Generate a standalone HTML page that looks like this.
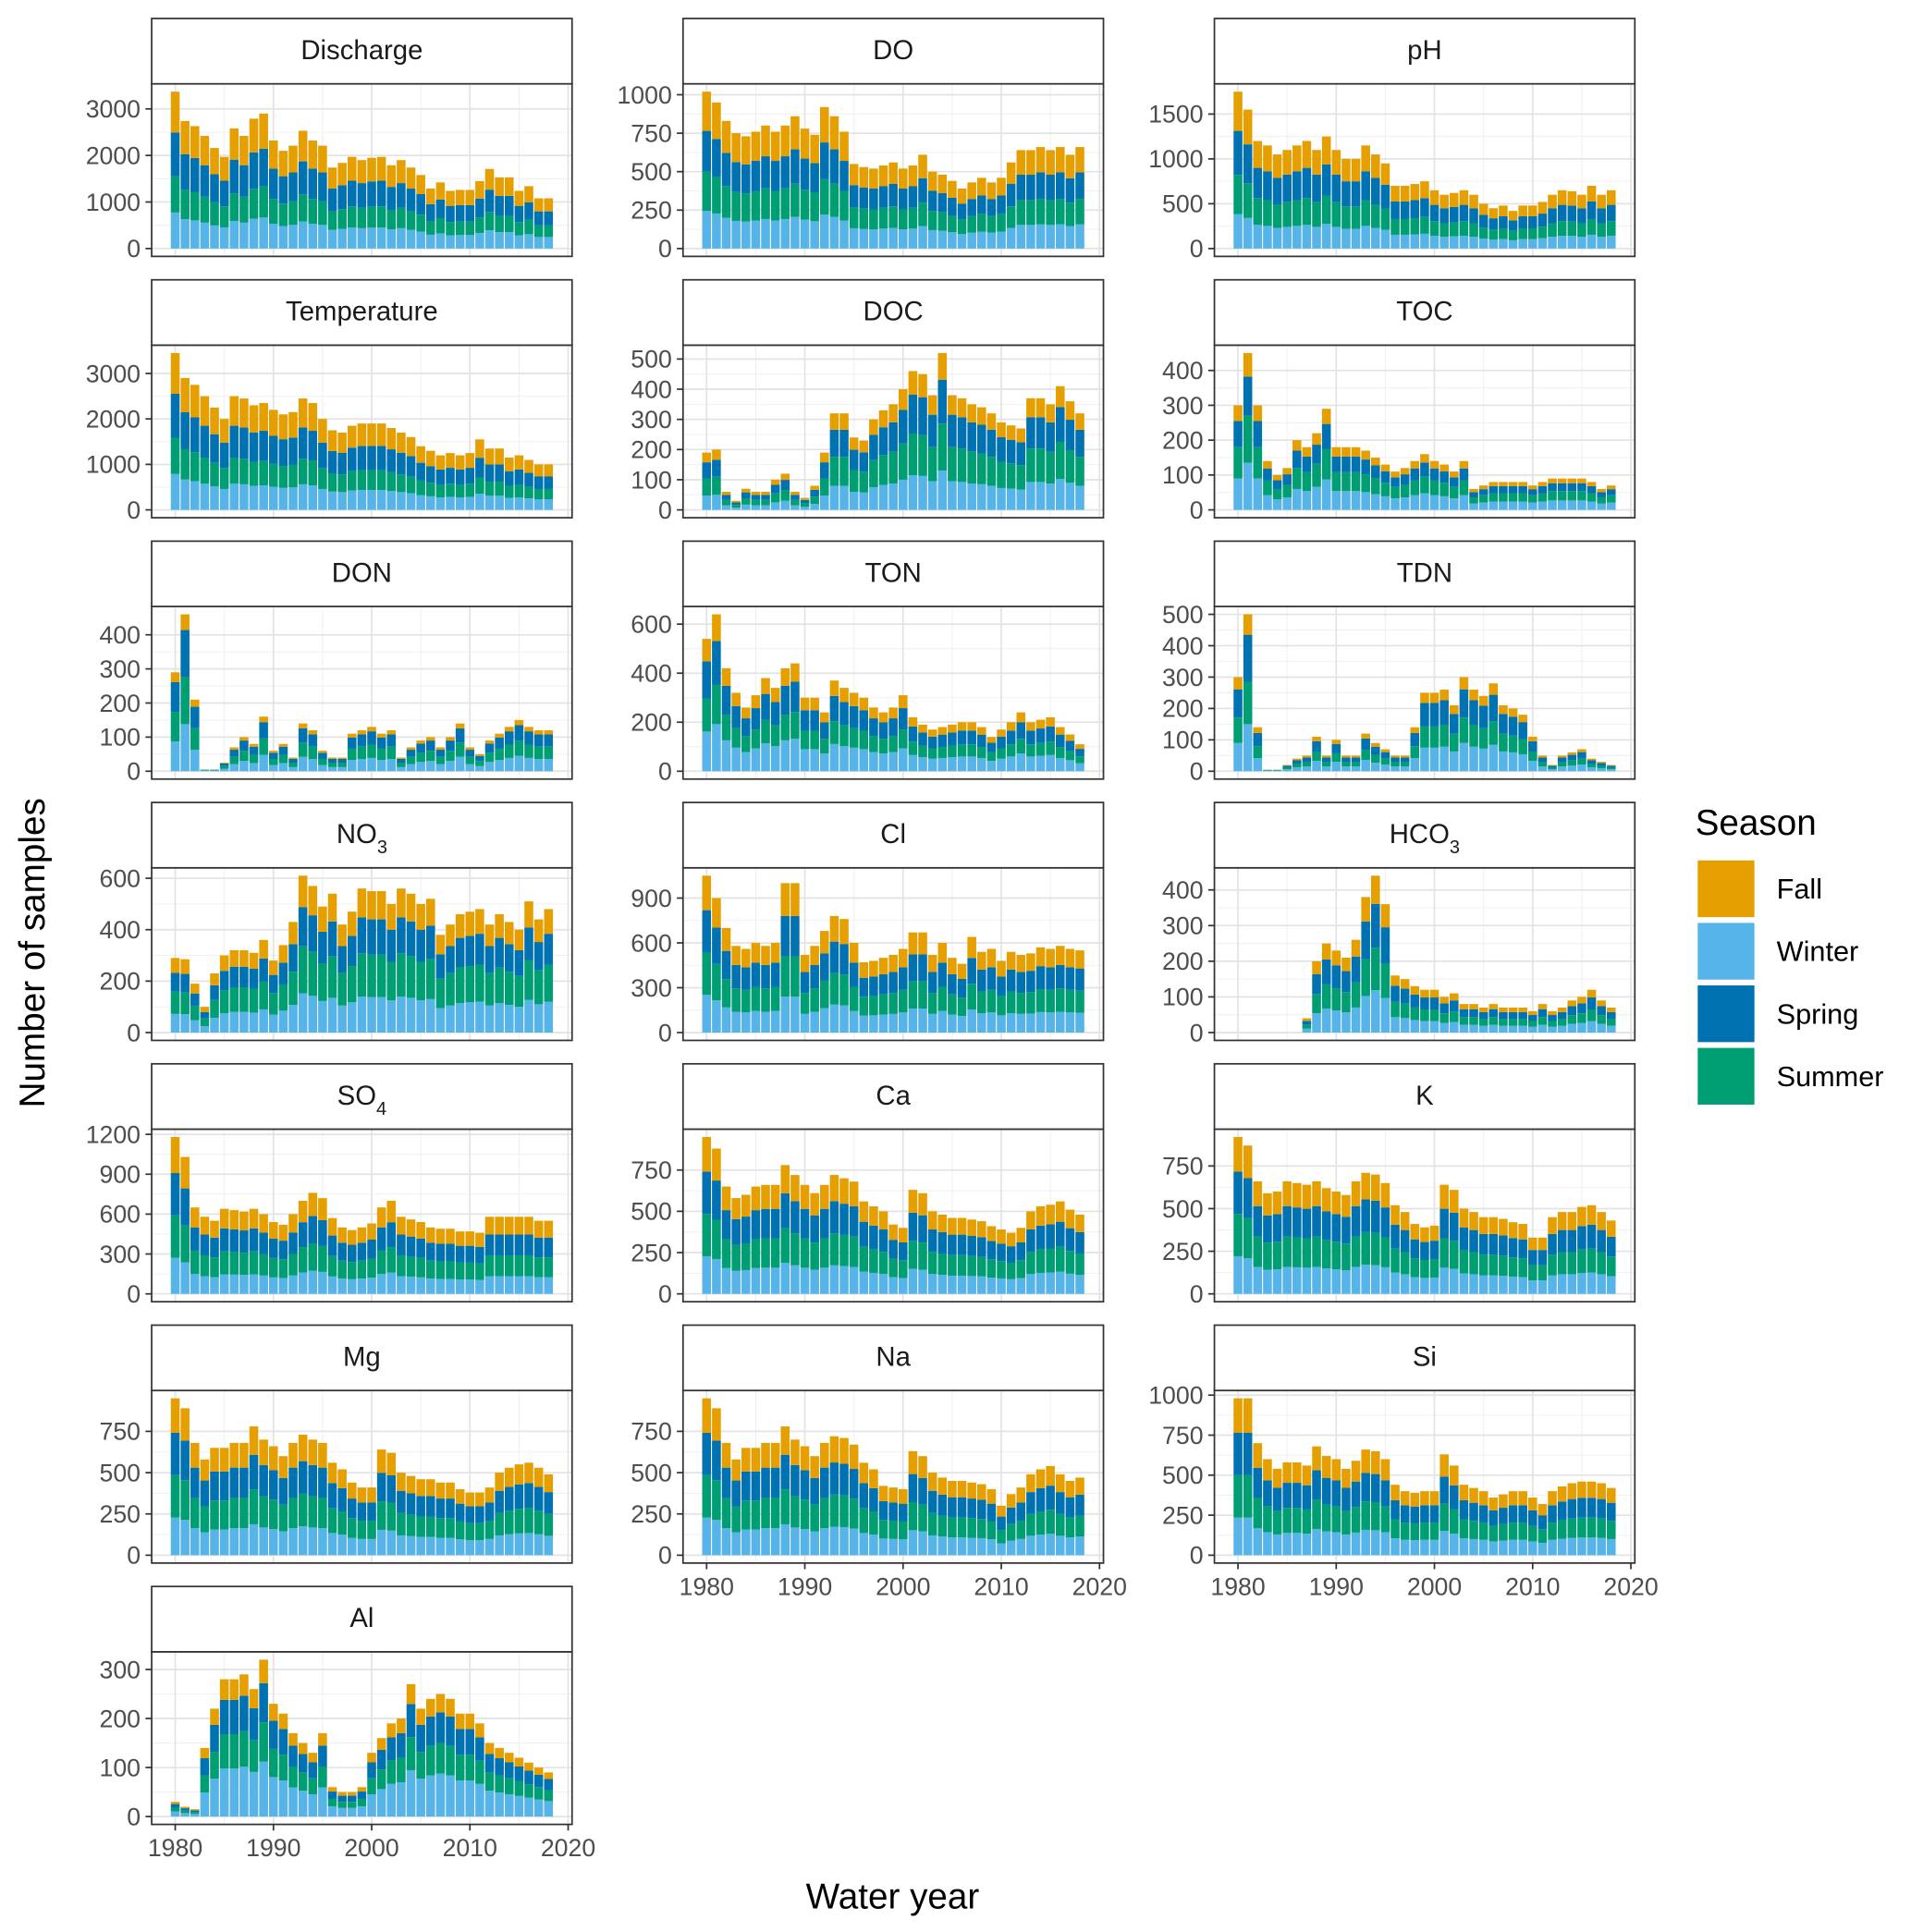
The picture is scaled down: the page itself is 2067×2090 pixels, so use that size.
<!DOCTYPE html>
<html><head><meta charset="utf-8"><style>
html,body{margin:0;padding:0;background:#fff}
svg{display:block}
text{font-family:"Liberation Sans",sans-serif}
</style></head><body>
<svg id="chart" width="2067" height="2090" viewBox="0 0 1550 1567.3" preserveAspectRatio="none" xmlns="http://www.w3.org/2000/svg"></svg>
<script>
const years = []; for (let y = 1980; y <= 2018; y++) years.push(y);
const seasons = ["Winter","Summer","Spring","Fall"];
const seasonColors = {Winter:"#56B4E9",Summer:"#009E73",Spring:"#0072B2",Fall:"#E69F00"};
const legendOrder = ["Fall","Winter","Spring","Summer"];
const panelNames = ["Discharge","DO","pH","Temperature","DOC","TOC","DON","TON","TDN","NO3","Cl","HCO3","SO4","Ca","K","Mg","Na","Si","Al"];
const totalsDischarge = [3370,2740,2630,2420,2160,1970,2580,2420,2790,2900,2320,2100,2210,2530,2320,2210,1740,1840,1970,1900,1950,1970,1790,1900,1740,1580,1290,1420,1240,1260,1260,1450,1710,1530,1530,1240,1340,1080,1080];
const totalsDO = [1020,950,830,750,730,760,800,760,800,860,780,740,920,860,760,550,530,520,540,560,520,540,610,500,480,440,390,430,460,430,460,560,640,640,660,640,660,610,660];
const totalsPH = [1750,1550,1200,1150,1050,1100,1150,1200,1100,1250,1100,1000,1000,1150,1050,950,700,700,720,750,650,600,620,650,600,500,450,480,420,480,480,520,600,650,640,600,700,600,650];
const totalsTemperature = [3450,2900,2750,2500,2250,2000,2500,2450,2300,2350,2200,2100,2150,2450,2350,2000,1750,1700,1850,1900,1900,1900,1800,1700,1600,1400,1300,1200,1250,1200,1250,1550,1350,1350,1150,1200,1100,1000,1000];
const totalsDOC = [190,200,60,30,70,60,60,100,120,60,40,80,190,320,320,240,230,300,330,350,400,460,450,380,520,380,370,350,340,320,290,280,270,370,370,350,410,360,320];
const totalsTOC = [300,450,300,140,100,120,200,180,220,290,180,180,180,170,150,130,110,120,140,160,140,130,110,140,60,70,80,80,80,80,70,80,90,90,90,90,80,60,70];
const totalsDON = [290,460,210,5,5,25,70,100,80,160,60,80,40,140,120,60,40,40,110,120,130,110,120,40,70,90,100,70,100,140,70,50,90,110,130,150,130,120,120];
const totalsTON = [540,640,420,320,260,310,380,340,420,440,300,300,240,370,340,320,300,260,240,260,310,220,190,170,180,190,200,200,180,140,170,200,240,200,210,220,180,150,110];
const totalsTDN = [300,500,140,5,5,20,40,50,110,50,100,50,50,120,90,70,50,50,140,250,250,260,210,300,260,240,280,210,200,180,110,50,20,50,60,70,40,30,20];
const totalsNO3 = [290,285,190,100,230,300,320,320,310,360,280,340,430,610,570,490,540,420,470,560,550,550,500,560,540,500,520,380,420,460,470,480,420,460,430,400,510,440,480];
const totalsCl = [1050,900,700,580,560,600,580,600,1000,1000,520,580,680,780,760,600,470,480,500,520,560,670,670,520,600,500,460,640,540,560,480,540,520,530,570,560,580,560,550];
const totalsHCO3 = [0,0,0,0,0,0,0,40,200,250,230,210,260,380,440,360,160,150,130,120,120,100,110,80,80,70,80,70,70,70,60,80,60,70,90,100,120,90,70];
const totalsSO4 = [1180,1030,650,580,550,640,630,620,640,600,540,520,600,700,760,720,570,500,480,500,530,650,700,580,560,540,500,490,490,470,470,460,580,580,580,580,580,550,550];
const totalsCa = [950,880,650,580,600,650,660,660,780,720,660,610,660,720,700,680,560,530,500,420,400,630,610,500,480,460,460,450,440,410,390,370,400,500,530,540,560,510,480];
const totalsK = [920,870,660,590,600,660,650,640,660,620,600,580,660,710,700,650,520,480,410,390,400,640,610,500,480,450,450,440,420,410,330,330,450,480,480,510,520,480,430];
const totalsMg = [950,890,680,580,650,650,680,680,780,700,660,600,680,730,700,680,560,520,440,410,410,640,620,500,480,460,460,440,440,400,380,380,410,500,530,550,560,530,490];
const totalsNa = [950,890,680,580,650,650,680,680,780,700,660,600,680,720,710,670,560,520,420,410,400,630,600,500,470,450,450,440,430,400,300,370,410,490,520,540,490,450,470];
const totalsSi = [980,980,700,600,540,580,580,560,680,620,600,540,590,660,650,600,440,400,390,400,400,630,560,440,420,400,360,380,400,400,360,320,400,430,450,460,460,450,420];
const totalsAl = [30,20,15,140,220,280,280,290,260,320,230,210,170,150,130,170,60,50,50,60,130,160,190,200,270,220,240,250,240,210,210,190,150,140,130,120,110,100,90];
// season shares per panel: [Winter, Summer, Spring, Fall]
const sharesDischarge=[0.23,0.23,0.28,0.26], sharesDO=[0.24,0.25,0.26,0.25], sharesPH=[0.22,0.25,0.28,0.25],
 sharesTemperature=[0.23,0.23,0.28,0.26], sharesDOC=[0.25,0.3,0.28,0.17], sharesTOC=[0.3,0.3,0.25,0.15],
 sharesDON=[0.3,0.3,0.3,0.1], sharesTON=[0.3,0.25,0.28,0.17], sharesTDN=[0.3,0.27,0.3,0.13],
 sharesNO3=[0.25,0.3,0.25,0.2], sharesCl=[0.24,0.27,0.27,0.22], sharesHCO3=[0.27,0.27,0.28,0.18],
 sharesSO4=[0.23,0.27,0.27,0.23], sharesCa=[0.24,0.27,0.27,0.22], sharesK=[0.24,0.27,0.27,0.22],
 sharesMg=[0.24,0.27,0.27,0.22], sharesNa=[0.24,0.27,0.27,0.22], sharesSi=[0.24,0.27,0.27,0.22], sharesAl=[0.35,0.25,0.25,0.15];
const ticksDischarge=[0,1000,2000,3000], ticksDO=[0,250,500,750,1000], ticksPH=[0,500,1000,1500],
 ticksTemperature=[0,1000,2000,3000], ticksDOC=[0,100,200,300,400,500], ticksTOC=[0,100,200,300,400],
 ticksDON=[0,100,200,300,400], ticksTON=[0,200,400,600], ticksTDN=[0,100,200,300,400,500],
 ticksNO3=[0,200,400,600], ticksCl=[0,300,600,900], ticksHCO3=[0,100,200,300,400],
 ticksSO4=[0,300,600,900,1200], ticksCa=[0,250,500,750], ticksK=[0,250,500,750],
 ticksMg=[0,250,500,750], ticksNa=[0,250,500,750], ticksSi=[0,250,500,750,1000], ticksAl=[0,100,200,300];
const xTickYears = [1980,1990,2000,2010,2020];

const totalsList=[totalsDischarge,totalsDO,totalsPH,totalsTemperature,totalsDOC,totalsTOC,totalsDON,totalsTON,totalsTDN,totalsNO3,totalsCl,totalsHCO3,totalsSO4,totalsCa,totalsK,totalsMg,totalsNa,totalsSi,totalsAl];
const sharesList=[sharesDischarge,sharesDO,sharesPH,sharesTemperature,sharesDOC,sharesTOC,sharesDON,sharesTON,sharesTDN,sharesNO3,sharesCl,sharesHCO3,sharesSO4,sharesCa,sharesK,sharesMg,sharesNa,sharesSi,sharesAl];
const ticksList=[ticksDischarge,ticksDO,ticksPH,ticksTemperature,ticksDOC,ticksTOC,ticksDON,ticksTON,ticksTDN,ticksNO3,ticksCl,ticksHCO3,ticksSO4,ticksCa,ticksK,ticksMg,ticksNa,ticksSi,ticksAl];

const NS="http://www.w3.org/2000/svg";
const svg=document.getElementById("chart");
function mk(tag,attrs,parent){const e=document.createElementNS(NS,tag);for(const k in attrs)e.setAttribute(k,attrs[k]);(parent||svg).appendChild(e);return e;}

const colX=[123,554,985], PW=341, STRIP=53, PH=140;
function rowTop(r){return 15+212*r;}
const xMin=1977.6, xMax=2020.4;

function labelText(t,name){
  const m=name.match(/^([A-Za-z]+)(\d)$/);
  if(m && ["NO3","HCO3","SO4"].includes(name)){
    t.textContent=m[1];
    const s=document.createElementNS(NS,"tspan");
    s.setAttribute("baseline-shift","sub");s.setAttribute("font-size","15");
    s.textContent=m[2];t.appendChild(s);
  } else t.textContent=name;
}

panelNames.forEach((name,i)=>{
  const r=Math.floor(i/3), c=i%3;
  const x0=colX[c], st=rowTop(r), py=st+STRIP;
  const g=mk("g",{});
  
  
  const totals=totalsList[i], shares=sharesList[i], ticks=ticksList[i];
  const M=Math.max(...totals);
  const yLo=-0.05*M, yHi=1.05*M;
  const xs=v=>x0+(v-xMin)/(xMax-xMin)*PW;
  const ys=v=>py+PH-(v-yLo)/(yHi-yLo)*PH;
  // background
  mk("rect",{x:x0,y:py,width:PW,height:PH,fill:"#fff"},g);
  // minor grid
  for(let k=0;k<ticks.length-1;k++){const v=(ticks[k]+ticks[k+1])/2;mk("line",{x1:x0,x2:x0+PW,y1:ys(v),y2:ys(v),stroke:"#f0f0f0","stroke-width":0.8},g);}
  for(let k=0;k<xTickYears.length-1;k++){const v=xTickYears[k]+5;mk("line",{x1:xs(v),x2:xs(v),y1:py,y2:py+PH,stroke:"#f0f0f0","stroke-width":0.8},g);}
  // major grid
  ticks.forEach(v=>mk("line",{x1:x0,x2:x0+PW,y1:ys(v),y2:ys(v),stroke:"#e3e3e3","stroke-width":1.3},g));
  xTickYears.forEach(v=>mk("line",{x1:xs(v),x2:xs(v),y1:py,y2:py+PH,stroke:"#e3e3e3","stroke-width":1.3},g));
  // bars
  years.forEach((yr,j)=>{
    let base=0;
    seasons.forEach((s,k)=>{
      const v=totals[j]*shares[k];
      if(v<=0)return;
      const rct=mk("rect",{x:xs(yr-0.45),width:xs(yr+0.45)-xs(yr-0.45),y:ys(base+v),height:ys(base)-ys(base+v),fill:seasonColors[s]},g);
      
      
      base+=v;
    });
  });
  // border
  mk("rect",{x:x0,y:py,width:PW,height:PH,fill:"none",stroke:"#333","stroke-width":1.3},g);
  // strip
  const sr=mk("rect",{x:x0,y:st,width:PW,height:STRIP,fill:"#fff",stroke:"#333","stroke-width":1.3},g);
  
  
  const stt=mk("text",{x:x0+PW/2,y:st+33,"text-anchor":"middle","font-size":22,fill:"#1a1a1a"},g);
  labelText(stt,name);
  
  
  // y ticks
  ticks.forEach(v=>{
    mk("line",{x1:x0-5,x2:x0,y1:ys(v),y2:ys(v),stroke:"#333","stroke-width":1.3},g);
    const t=mk("text",{x:x0-9,y:ys(v)+7,"text-anchor":"end","font-size":20,fill:"#4d4d4d"},g);
    t.textContent=v;
    
    
  });
  // x ticks for bottom panels
  const bottom = (c===0 && r===6) || (c>0 && r===5);
  if(bottom){
    xTickYears.forEach(v=>{
      mk("line",{x1:xs(v),x2:xs(v),y1:py+PH,y2:py+PH+5,stroke:"#333","stroke-width":1.3},g);
      const t=mk("text",{x:xs(v),y:py+PH+26,"text-anchor":"middle","font-size":20,fill:"#4d4d4d"},g);
      t.textContent=v;
      
      
    });
  }
});
</script>
<script>
(function(){
  const svg=document.getElementById("chart");const NS="http://www.w3.org/2000/svg";
  function mk(tag,attrs){const e=document.createElementNS(NS,tag);for(const k in attrs)e.setAttribute(k,attrs[k]);svg.appendChild(e);return e;}
  const yt=mk("text",{x:0,y:0,transform:"translate(36,773) rotate(-90)","text-anchor":"middle","font-size":29,fill:"#000"});
  yt.textContent="Number of samples";
  
  
  const xt=mk("text",{x:724,y:1548,"text-anchor":"middle","font-size":29,fill:"#000"});
  xt.textContent="Water year";
  
  
  const lt=mk("text",{x:1375,y:677,"font-size":29,fill:"#000"});
  lt.textContent="Season";
  
  
  const order=["Fall","Winter","Spring","Summer"];
  const cols={Winter:"#56B4E9",Summer:"#009E73",Spring:"#0072B2",Fall:"#E69F00"};
  order.forEach((s,i)=>{
    const r=mk("rect",{x:1377,y:698+i*50.7,width:46,height:46,fill:cols[s]});
    
    
    const t=mk("text",{x:1441,y:729+i*50.7,"font-size":23,fill:"#000"});
    t.textContent=s;
    
    
  });
})();
</script>
</body></html>
